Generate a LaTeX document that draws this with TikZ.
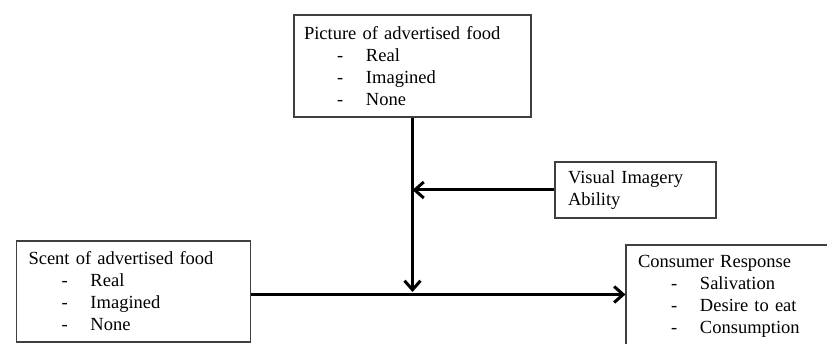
\documentclass[tikz,border=0pt]{standalone}
\usepackage{fontspec}
\setmainfont{Liberation Serif}
\usetikzlibrary{arrows.meta, positioning}

\newcommand{\opt}[1]{\hspace*{33pt}\makebox[29pt][l]{-}#1}

\begin{document}
\begin{tikzpicture}[x=1pt, y=-1pt,
  box/.style={rectangle, draw=black!75, line width=1.2pt, inner xsep=10pt,
              align=left, font=\fontsize{18.5}{22}\selectfont},
  arr/.style={-{Straight Barb[length=9pt, width=16pt]}, line width=3pt}
]
\useasboundingbox (0,0) rectangle (827,344);

\node[box, minimum width=237pt, minimum height=102pt, text width=217pt] (pic) at (412.5,66)
  {Picture of advertised food\\\opt{Real}\\\opt{Imagined}\\\opt{None}};
\node[box, minimum width=155pt, minimum height=56pt, text width=135pt, inner xsep=13pt] (vis) at (635.5,190)
  {Visual Imagery\\Ability};
\node[box, minimum width=233pt, minimum height=101pt, text width=210pt, inner xsep=12pt] (scent) at (133.5,291.5)
  {Scent of advertised food\\\opt{Real}\\\opt{Imagined}\\\opt{None}};
\node[box, minimum width=224pt, minimum height=102pt, text width=200pt, inner xsep=12pt] (resp) at (738,296)
  {Consumer Response\\\opt{Salivation}\\\opt{Desire to eat}\\\opt{Consumption}};
\coordinate (join) at (pic.south |- 0,292);

\draw[arr] (pic.south) -- (join);
\draw[arr] (vis.west) -- (vis.west -| pic.south);
\draw[arr] (scent.east |- 0,294.5) -- (resp.west |- 0,294.5);
\end{tikzpicture}
\end{document}
